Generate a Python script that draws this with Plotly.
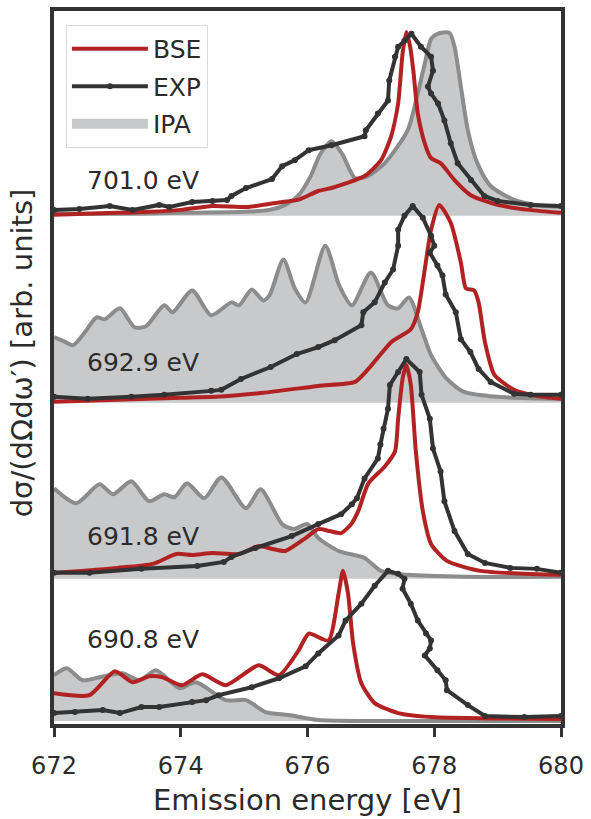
import plotly.graph_objects as go

# ---------------- data (intensities in arbitrary units) ----------------
panel_labels = ["701.0 eV", "692.9 eV", "691.8 eV", "690.8 eV"]
panel_offsets = [511, 323, 146, 3]
x_ticks = [672, 674, 676, 678, 680]

# 701.0 eV
ipa_701_E = [672.0, 673.0, 674.0, 675.0, 675.4, 675.65, 675.85, 676.05, 676.2, 676.38, 676.55, 676.75, 676.95,
             677.22, 677.58, 677.74, 677.85, 677.95, 678.05, 678.24, 678.32, 678.42, 678.53, 678.68, 678.89,
             679.26, 679.6, 680.0]
ipa_701_I = [2, 2, 3, 4, 6, 11, 20, 40, 62, 75, 62, 38, 40,
             53, 86, 123, 153, 178, 183, 184, 170, 130, 86, 53, 30,
             16, 11, 9]
bse_701_E = [672.0, 673.0, 673.5, 674.0, 674.5, 675.07, 675.6, 675.85, 676.17, 676.38, 676.9, 677.16, 677.32,
             677.43, 677.5, 677.56, 677.62, 677.67, 677.74, 677.85, 677.95, 678.1, 678.32, 678.57, 679.0,
             679.5, 680.0]
bse_701_I = [1, 3, 4, 6, 10, 9, 14, 16, 25, 28, 40, 56, 80,
             113, 163, 185, 170, 146, 103, 73, 58, 53, 36, 21, 11,
             6, 3]
exp_701_E = [672.0, 672.4, 672.88, 673.24, 673.66, 673.82, 674.18, 674.5, 674.73, 674.8, 675.03, 675.44,
             675.6, 675.8, 676.02, 676.38, 676.9, 676.92, 677.11, 677.27, 677.29, 677.38, 677.43, 677.53,
             677.64, 677.79, 677.95, 677.98, 677.9, 677.95, 678.06, 678.16, 678.26, 678.37, 678.58, 678.79,
             679.0, 679.52, 680.0]
exp_701_I = [6, 7, 10, 6, 11, 9, 14, 15, 16, 20, 28, 37,
             50, 56, 66, 71, 80, 86, 103, 116, 136, 160, 170, 176,
             183, 170, 160, 146, 130, 123, 113, 96, 73, 53, 36, 20,
             15, 11, 10]

# 692.9 eV
ipa_692_9_E = [672.0, 672.15, 672.3, 672.5, 672.67, 672.8, 673.04, 673.27, 673.45, 673.74, 673.87, 674.18,
               674.48, 674.8, 674.92, 675.12, 675.3, 675.4, 675.62, 675.8, 675.97, 676.28, 676.5, 676.7, 677.0,
               677.27, 677.43, 677.6, 677.8, 677.95, 678.2, 678.47, 679.0, 680.0]
ipa_692_9_I = [66, 62, 58, 72, 86, 84, 95, 76, 77, 98, 91, 113,
               88, 101, 98, 114, 103, 108, 144, 115, 101, 158, 118, 98, 131,
               98, 95, 106, 74, 48, 24, 11, 6, 4]
bse_692_9_E = [672.0, 673.0, 674.0, 674.55, 675.3, 676.17, 676.75, 676.96, 677.32, 677.63, 677.74, 677.85,
               677.95, 678.08, 678.26, 678.42, 678.5, 678.63, 678.7, 678.8, 678.95, 679.26, 679.6, 680.0]
bse_692_9_I = [1, 3, 5, 6, 10, 17, 21, 34, 61, 74, 91, 134,
               174, 199, 181, 141, 115, 113, 101, 61, 28, 13, 7, 4]
exp_692_9_E = [672.0, 672.53, 673.22, 673.74, 674.48, 674.64, 674.95, 675.42, 675.83, 676.17, 676.43, 676.85,
               676.88, 677.06, 677.22, 677.35, 677.43, 677.43, 677.53, 677.66, 677.82, 677.95, 678.0, 677.93,
               678.05, 678.13, 678.18, 678.34, 678.42, 678.57, 678.7, 678.89, 679.26, 679.52, 680.0]
exp_692_9_I = [6, 4, 6, 8, 12, 13, 24, 36, 49, 56, 63, 78,
               91, 101, 121, 134, 158, 174, 188, 198, 186, 168, 158, 151,
               138, 128, 109, 91, 64, 51, 34, 21, 9, 8, 8]

# 691.8 eV
ipa_691_8_E = [672.0, 672.35, 672.72, 672.93, 673.22, 673.5, 673.74, 673.9, 674.1, 674.37, 674.64, 675.03,
               675.26, 675.6, 675.78, 676.0, 676.17, 676.49, 676.9, 677.16, 677.58, 678.5, 680.0]
ipa_691_8_I = [91, 76, 95, 85, 98, 78, 85, 82, 96, 81, 102, 71,
               90, 55, 50, 55, 41, 28, 21, 8, 4, 2, 2]
bse_691_8_E = [672.0, 673.0, 673.56, 673.93, 674.18, 674.5, 674.92, 675.23, 675.45, 675.65, 675.97, 676.17,
               676.35, 676.53, 676.69, 676.8, 676.96, 677.22, 677.38, 677.43, 677.5, 677.56, 677.63, 677.71,
               677.82, 677.95, 678.2, 678.73, 680.0]
bse_691_8_I = [6, 11, 15, 25, 24, 26, 25, 33, 30, 28, 41, 50,
               48, 46, 55, 68, 96, 113, 128, 161, 201, 215, 195, 128,
               68, 35, 18, 8, 4]
exp_691_8_E = [672.0, 672.56, 673.38, 674.26, 674.68, 674.8, 675.18, 675.75, 676.17, 676.53, 676.7, 676.78,
               676.9, 677.11, 677.15, 677.2, 677.27, 677.3, 677.43, 677.56, 677.77, 677.8, 677.93, 677.98,
               678.1, 678.16, 678.32, 678.53, 678.8, 679.2, 679.62, 680.0]
exp_691_8_I = [6, 6, 10, 13, 17, 22, 31, 43, 55, 65, 75, 81,
               101, 121, 135, 151, 171, 195, 208, 221, 208, 185, 161, 131,
               108, 78, 48, 25, 16, 11, 10, 6]

# 690.8 eV
ipa_690_8_E = [672.0, 672.2, 672.45, 672.72, 673.08, 673.35, 673.61, 673.98, 674.24, 674.71, 675.03, 675.34,
               675.7, 676.17, 677.0, 680.0]
ipa_690_8_I = [46, 53, 41, 44, 48, 41, 51, 33, 39, 21, 21, 9,
               6, 1, 0, 0]
bse_690_8_E = [672.0, 672.56, 672.96, 673.24, 673.5, 673.71, 674.02, 674.34, 674.71, 675.23, 675.55, 675.86,
               676.02, 676.33, 676.49, 676.56, 676.64, 676.72, 676.85, 677.06, 677.43, 677.95, 680.0]
bse_690_8_I = [28, 26, 50, 39, 45, 44, 36, 47, 36, 56, 46, 71,
               88, 81, 128, 151, 128, 78, 38, 18, 8, 4, 2]
exp_690_8_E = [672.0, 672.33, 672.77, 673.04, 673.38, 673.66, 674.18, 674.4, 674.6, 675.12, 675.55, 675.97,
               676.17, 676.49, 676.6, 676.85, 677.06, 677.27, 677.43, 677.53, 677.5, 677.63, 677.74, 677.87,
               677.95, 677.93, 677.85, 678.05, 678.18, 678.2, 678.53, 678.8, 679.42, 680.0]
exp_690_8_I = [8, 9, 11, 8, 14, 14, 19, 21, 26, 34, 43, 55,
               68, 86, 101, 118, 136, 151, 148, 143, 133, 118, 101, 88,
               81, 73, 66, 51, 41, 31, 16, 5, 4, 5]

panels = [
    (ipa_701_E, ipa_701_I, bse_701_E, bse_701_I, exp_701_E, exp_701_I),
    (ipa_692_9_E, ipa_692_9_I, bse_692_9_E, bse_692_9_I, exp_692_9_E, exp_692_9_I),
    (ipa_691_8_E, ipa_691_8_I, bse_691_8_E, bse_691_8_I, exp_691_8_E, exp_691_8_I),
    (ipa_690_8_E, ipa_690_8_I, bse_690_8_E, bse_690_8_I, exp_690_8_E, exp_690_8_I),
]

# ---------------- styles ----------------
RED = "#b22222"
DARK = "#333333"
GRAY_LINE = "#8c8c8c"
GRAY_FILL = "#c8c9cb"
TEXT = "#2b2b2b"
FONT = "DejaVu Sans"
LW = 4
label_dy = [36, 41, 43, 82]

fig = go.Figure()

for i, (ipaE, ipaI, bseE, bseI, expE, expI) in enumerate(panels):
    off = panel_offsets[i]
    first = (i == 0)
    # baseline for the fill
    fig.add_trace(go.Scatter(x=[x_ticks[0], x_ticks[-1]], y=[off, off], mode="lines",
                             line=dict(width=0, color=GRAY_FILL), showlegend=False, hoverinfo="skip"))
    fig.add_trace(go.Scatter(x=ipaE, y=[off + v for v in ipaI], mode="lines", fill="tonexty",
                             fillcolor=GRAY_FILL,
                             line=dict(color=GRAY_LINE, width=LW, shape="spline", smoothing=0.7),
                             showlegend=False, hoverinfo="skip"))
    fig.add_trace(go.Scatter(x=bseE, y=[off + v for v in bseI], mode="lines",
                             line=dict(color=RED, width=LW, shape="spline", smoothing=0.6),
                             name="BSE", showlegend=first, legendgroup="BSE", legendrank=1))
    fig.add_trace(go.Scatter(x=expE, y=[off + v for v in expI], mode="lines+markers",
                             line=dict(color=DARK, width=LW),
                             marker=dict(color=DARK, size=6),
                             name="EXP", showlegend=first, legendgroup="EXP", legendrank=2))
    fig.add_annotation(x=672.49, y=off + label_dy[i], text=panel_labels[i], showarrow=False,
                       xanchor="left", yanchor="middle", font=dict(family=FONT, size=25, color=TEXT))

# legend-only entry for the IPA fill
fig.add_trace(go.Scatter(x=[None], y=[None], mode="lines", line=dict(color=GRAY_FILL, width=19),
                         name="IPA", showlegend=True, legendgroup="IPA", legendrank=3))

fig.add_annotation(xref="paper", yref="paper", x=-0.063, y=0.52, textangle=-90,
                   text="dσ/(dΩdω′) [arb. units]", showarrow=False, xanchor="center", yanchor="middle",
                   font=dict(family=FONT, size=29, color=TEXT))
fig.add_annotation(xref="paper", yref="paper", x=0.5, y=-0.106,
                   text="Emission energy [eV]", showarrow=False, xanchor="center", yanchor="middle",
                   font=dict(family=FONT, size=29, color=TEXT))

fig.update_layout(
    width=591, height=819,
    margin=dict(l=54, r=27, t=7, b=95),
    plot_bgcolor="white", paper_bgcolor="white",
    font=dict(family=FONT, color=TEXT),
    legend=dict(x=0.0235, y=0.9805, xanchor="left", yanchor="top",
                bgcolor="white", bordercolor="#d9d9d9", borderwidth=1,
                font=dict(family=FONT, size=25, color=TEXT),
                traceorder="grouped", tracegroupgap=2, itemwidth=76),
)
fig.update_xaxes(range=[672, 680], tickvals=x_ticks, ticktext=[str(t) for t in x_ticks],
                 ticks="outside", ticklen=9, tickwidth=3, tickcolor=DARK,
                 tickfont=dict(family=FONT, size=24, color=TEXT), ticklabelstandoff=8,
                 showline=True, linewidth=4, linecolor=DARK, mirror=True,
                 showgrid=False, zeroline=False)
fig.update_yaxes(range=[0, 717], showticklabels=False, ticks="",
                 showline=True, linewidth=4, linecolor=DARK, mirror=True,
                 showgrid=False, zeroline=False)

fig.write_html("out.html", config={"displayModeBar": False},
               post_script="document.body.style.margin='0';document.body.style.overflow='hidden';")
